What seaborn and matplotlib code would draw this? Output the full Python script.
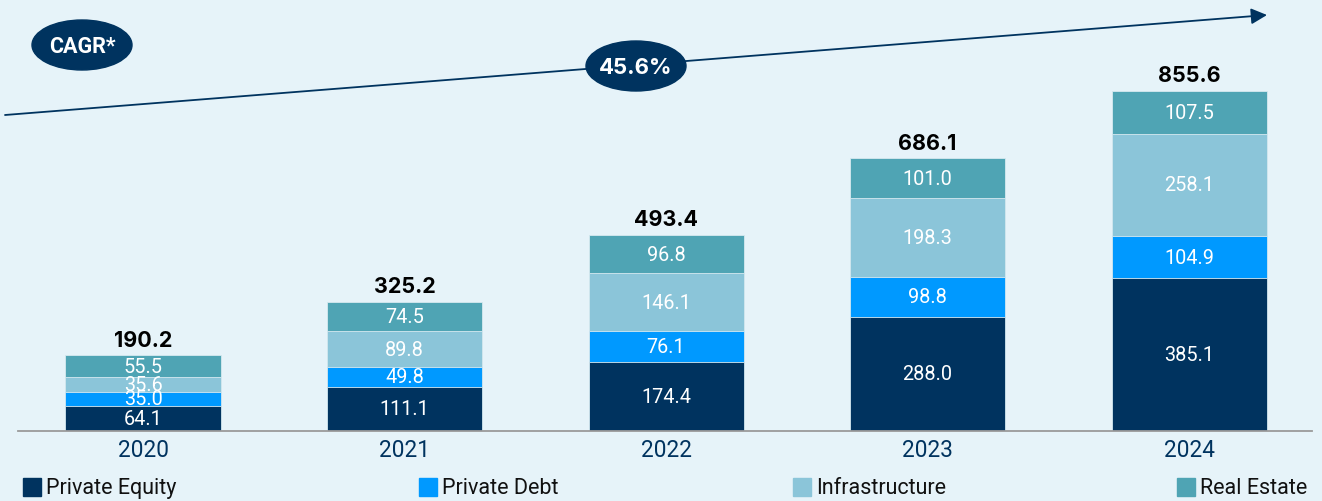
import matplotlib
matplotlib.use("Agg")
import matplotlib.pyplot as plt
import seaborn as sns
import pandas as pd
from matplotlib.patches import Ellipse, Rectangle

# ---- data ----
years = ["2020", "2021", "2022", "2023", "2024"]
series = ["Private Equity", "Private Debt", "Infrastructure", "Real Estate"]
private_equity = [64.1, 111.1, 174.4, 288.0, 385.1]
private_debt = [35.0, 49.8, 76.1, 98.8, 104.9]
infrastructure = [35.6, 89.8, 146.1, 198.3, 258.1]
real_estate = [55.5, 74.5, 96.8, 101.0, 107.5]
cagr_badge = "CAGR*"
cagr_value = "45.6%"

colors = ["#00335F", "#0099FF", "#8BC5D9", "#4FA4B4"]
BG = "#E6F3F9"
NAVY = "#00335F"

sns.set_theme(style="white")
plt.rcParams["font.family"] = ["Roboto", "DejaVu Sans"]

values = [private_equity, private_debt, infrastructure, real_estate]
df = pd.DataFrame({"year": years})
for s, v in zip(series, values):
    df[s] = v
cum = df[series].cumsum(axis=1)
totals = cum[series[-1]]

W, H = 1322, 502
fig = plt.figure(figsize=(W / 100, H / 100), dpi=100, facecolor=BG)
ax = fig.add_axes([18 / W, 70 / H, (1312 - 18) / W, 432 / H])
ax.set_facecolor("none")

# stacked bars: draw cumulative heights from the top layer down
for i in range(len(series) - 1, -1, -1):
    sns.barplot(x=df["year"], y=cum[series[i]], color=colors[i], saturation=1,
                width=0.593, order=years, ax=ax, edgecolor="#D6E9F0",
                linewidth=0.6, zorder=2)

ax.set_xlim(-0.478, 4.47)
ax.set_ylim(0, 432 / 0.3974)
ax.set_xlabel("")
ax.set_ylabel("")
ax.set_yticks([])
for sp in ["left", "top", "right"]:
    ax.spines[sp].set_visible(False)
ax.spines["bottom"].set_color("#9A9A9A")
ax.spines["bottom"].set_linewidth(1.3)
ax.tick_params(axis="x", length=0, pad=5, labelsize=16.3, labelcolor=NAVY)

# segment labels
for j in range(len(years)):
    for i, s in enumerate(series):
        v = df[s][j]
        ax.text(j, cum[s][j] - v / 2, f"{v:.1f}", ha="center", va="center",
                color="white", fontsize=14.3, zorder=5)
    ax.annotate(f"{totals[j]:.1f}", (j, totals[j]), xytext=(0, 4),
                textcoords="offset points", ha="center", va="bottom",
                fontsize=15.5, fontweight="bold", family="Inter", color="black")

# overlay in pixel coordinates
oax = fig.add_axes([0, 0, 1, 1], zorder=5)
oax.set_xlim(0, W)
oax.set_ylim(H, 0)
oax.axis("off")
oax.patch.set_alpha(0)

oax.annotate("", xy=(1267, 16), xytext=(5, 116),
             arrowprops=dict(arrowstyle="-|>,head_length=0.8,head_width=0.4",
                             color=NAVY, lw=1.3, shrinkA=0, shrinkB=0))
oax.add_patch(Ellipse((82, 46), 100, 50, color=NAVY, zorder=6))
oax.text(82, 47, cagr_badge, ha="center", va="center", color="white",
         fontsize=15.5, fontweight="bold", family="Roboto", zorder=7)
oax.add_patch(Ellipse((636, 67), 100, 50, color=NAVY, zorder=6))
oax.text(636, 68, cagr_value, ha="center", va="center", color="white",
         fontsize=16, fontweight="bold", family="Inter", zorder=7)

# legend
leg_x = [23, 419, 793, 1177]
for x, s, c in zip(leg_x, series, colors):
    oax.add_patch(Rectangle((x, 479), 18, 18, color=c))
    oax.text(x + 23, 488.5, s, ha="left", va="center", fontsize=15.5,
             color="#111111")

fig.savefig("out.png", dpi=100, facecolor=BG)
